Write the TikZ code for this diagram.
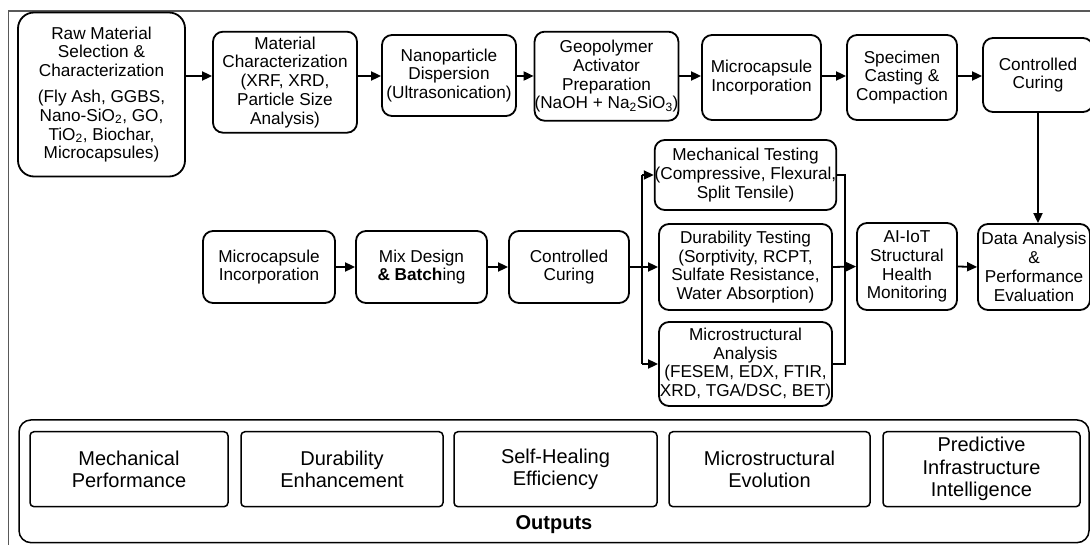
\documentclass[tikz,border=0pt]{standalone}
\usepackage{fontspec}
\setmainfont{Liberation Sans}
\usetikzlibrary{arrows.meta}
\begin{document}
\begin{tikzpicture}[x=1pt,y=-1pt,
  box/.style={draw,line width=1.8pt,rounded corners=10pt,align=center,inner sep=0pt,
    font=\fontsize{17.2}{18.8}\selectfont},
  obox/.style={draw,line width=1.5pt,rounded corners=4pt,align=center,inner sep=0pt,
    minimum height=75pt,font=\fontsize{20}{22.5}\selectfont},
  arr/.style={line width=1.8pt,-{Triangle[length=10pt,width=9pt]}},
  ln/.style={line width=1.8pt},
  frame/.style={draw=black!65,line width=1.3pt}]
\useasboundingbox (0,0) rectangle (1090,545);
% outer frame (cropped)
\draw[frame] (8.7,545) -- (8.7,11) -- (1090,11);
% top row
\node[box,rounded corners=16pt,minimum width=167pt,minimum height=164pt] (raw) at (101.5,94.5)
  {Raw Material\\Selection \&\\Characterization\\[7pt](Fly Ash, GGBS,\\Nano-SiO\textsubscript{2}, GO,\\TiO\textsubscript{2}, Biochar,\\Microcapsules)};
\node[box,minimum width=144pt,minimum height=101pt] (mat) at (285,82.2)
  {Material\\Characterization\\(XRF, XRD,\\Particle Size\\Analysis)};
\node[box,minimum width=134pt,minimum height=81pt] (nano) at (449,75.5)
  {Nanoparticle\\Dispersion\\(Ultrasonication)};
\node[box,minimum width=137pt,minimum height=89pt] (geo) at (606.5,76.2)
  {Geopolymer\\Activator\\Preparation\\(NaOH + Na\textsubscript{2}SiO\textsubscript{3})};
\node[box,minimum width=119pt,minimum height=85pt] (mic1) at (761.5,77.5)
  {Microcapsule\\Incorporation};
\node[box,minimum width=110pt,minimum height=85pt] (spec) at (902,77.5)
  {Specimen\\Casting \&\\Compaction};
\node[box,minimum width=110pt,minimum height=74pt] (cur1) at (1038,75)
  {Controlled\\Curing};
% middle row
\node[box,minimum width=132pt,minimum height=72pt] (mic2) at (269,267)
  {Microcapsule\\Incorporation};
\node[box,minimum width=131pt,minimum height=72pt] (mix) at (421.5,267)
  {Mix Design\\\textbf{\& Batch}ing};
\node[box,minimum width=120pt,minimum height=72pt] (cur2) at (569,267)
  {Controlled\\Curing};
\node[box,minimum width=173pt,minimum height=70pt] (mech) at (745.5,175)
  {Mechanical Testing\\(Compressive, Flexural,\\Split Tensile)};
\node[box,minimum width=173pt,minimum height=86pt] (dur) at (745.5,267)
  {Durability Testing\\(Sorptivity, RCPT,\\Sulfate Resistance,\\Water Absorption)};
\node[box,minimum width=173pt,minimum height=84pt] (micro) at (745.5,364)
  {Microstructural\\Analysis\\(FESEM, EDX, FTIR,\\XRD, TGA/DSC, BET)};
\node[box,minimum width=100pt,minimum height=87pt] (ai) at (907,266.5)
  {AI-IoT\\Structural\\Health\\Monitoring};
\node[box,minimum width=112pt,minimum height=86pt] (data) at (1034,267)
  {Data Analysis\\\&\\Performance\\Evaluation};
% outputs
\node[draw,line width=1.5pt,rounded corners=12pt,minimum width=1070pt,minimum height=122.7pt,inner sep=0pt] (out) at (554,481.3) {};
\node[obox,minimum width=198pt] (o1) at (129,469.2) {Mechanical\\Performance};
\node[obox,minimum width=202pt] (o2) at (342,469.2) {Durability\\Enhancement};
\node[obox,minimum width=203pt] (o3) at (555.5,469.2) {Self-Healing\\Efficiency};
\node[obox,minimum width=201pt] (o4) at (769.5,469.2) {Microstructural\\Evolution};
\node[obox,minimum width=197pt] (o5) at (981.5,469.2) {Predictive\\Infrastructure\\Intelligence};
\node[font=\fontsize{20}{22.5}\selectfont\bfseries] (outl) at (554,525) {Outputs};
% top row arrows
\coordinate (ty) at (0,76);
\draw[arr] (raw.east |- ty) -- (mat.west |- ty);
\draw[arr] (mat.east |- ty) -- (nano.west |- ty);
\draw[arr] (nano.east |- ty) -- (geo.west |- ty);
\draw[arr] (geo.east |- ty) -- (mic1.west |- ty);
\draw[arr] (mic1.east |- ty) -- (spec.west |- ty);
\draw[arr] (spec.east |- ty) -- (cur1.west |- ty);
\draw[arr] (cur1.south) -- (cur1.south |- data.north);
% middle row arrows
\draw[arr] (mic2) -- (mix);
\draw[arr] (mix) -- (cur2);
\coordinate (bx) at (642,267);
\coordinate (cx) at (845,267);
\draw[arr] (cur2.east) -- (dur.west);
\draw[ln] (bx |- mech.west) -- (bx |- micro.west);
\draw[arr] (bx |- mech.west) -- (mech.west);
\draw[arr] (bx |- micro.west) -- (micro.west);
\draw[ln] (mech.east) -- (cx |- mech.east) -- (cx |- micro.east) -- (micro.east);
\draw[arr] (dur.east) -- (ai.west);
\draw[arr] (ai.east) -- (data.west);
\end{tikzpicture}
\end{document}
